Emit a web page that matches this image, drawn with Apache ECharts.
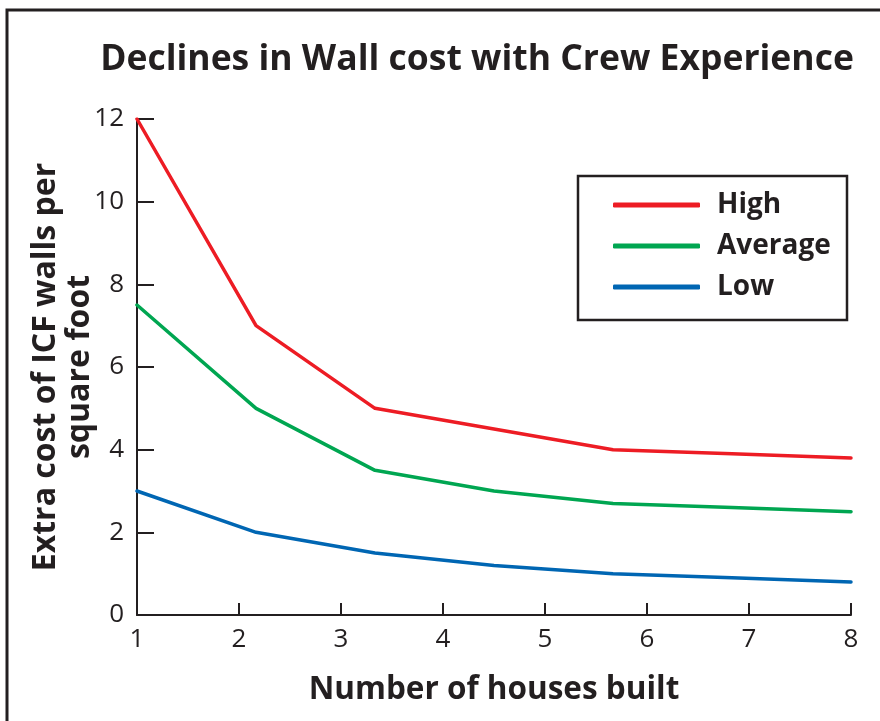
<!DOCTYPE html>
<html><head><meta charset="utf-8">
<script src="https://cdn.jsdelivr.net/npm/echarts@6/dist/echarts.min.js"></script>
<style>html,body{margin:0;padding:0;background:#fff}#c{width:880px;height:721px}</style>
</head><body><div id="c"></div>
<script>
const xValues = [1, 2.167, 3.333, 4.5, 5.667, 6.833, 8];
const seriesNames = ['High', 'Average', 'Low'];
const highValues = [12, 7, 5, 4.5, 4.0, 3.9, 3.8];
const averageValues = [7.5, 5, 3.5, 3.0, 2.7, 2.6, 2.5];
const lowValues = [3.0, 2.0, 1.5, 1.2, 1.0, 0.9, 0.8];
const xTicks = [1, 2, 3, 4, 5, 6, 7, 8];
const yTicks = [0, 2, 4, 6, 8, 10, 12];
const colors = ['#ED1C24', '#00A651', '#0066B3'];
const ink = '#231F20';
const fontB = '"Open Sans", sans-serif';

const chart = echarts.init(document.getElementById('c'));
const pairs = v => xValues.map((x, i) => [x, v[i]]);
chart.setOption({
  animation: false,
  title: {
    text: 'Declines in Wall cost with Crew Experience',
    left: 472, textAlign: 'center', top: 37,
    textStyle: { fontFamily: fontB, fontWeight: 'bold', fontSize: 35.5, color: ink }
  },
  grid: { left: 137, top: 119, width: 714, height: 496, containLabel: false },
  legend: {
    orient: 'vertical', left: 608, top: 185,
    itemWidth: 87, itemHeight: 5, itemGap: 11, icon: 'roundRect',
    data: seriesNames,
    textStyle: { fontFamily: fontB, fontWeight: 'bold', fontSize: 28, color: ink, lineHeight: 30, padding: [0, 0, 0, 12] }
  },
  graphic: [
    { type: 'rect', shape: { x: 7, y: 10, width: 1000, height: 1000 }, style: { fill: 'none', stroke: ink, lineWidth: 3 }, silent: true, z: 0 },
    { type: 'rect', shape: { x: 578, y: 176, width: 269, height: 144 }, style: { fill: 'none', stroke: ink, lineWidth: 2.5 }, silent: true, z: 10 }
  ],
  xAxis: {
    type: 'value', min: 1, max: 8, interval: 1,
    name: 'Number of houses built', nameLocation: 'middle', nameGap: 59, nameMoveOverlap: false,
    nameTextStyle: { fontFamily: fontB, fontWeight: 'bold', fontSize: 31.5, color: ink },
    axisLine: { lineStyle: { color: ink, width: 2 } },
    axisTick: { inside: true, length: 12, lineStyle: { color: ink, width: 2 } },
    axisLabel: { fontFamily: fontB, fontSize: 26, color: ink, margin: 12,
      formatter: v => xTicks.includes(v) ? String(v) : '' },
    splitLine: { show: false }
  },
  yAxis: {
    type: 'value', min: 0, max: 12, interval: 2,
    name: 'Extra cost of ICF walls per\nsquare foot', nameLocation: 'middle', nameGap: 40, nameRotate: 90, nameMoveOverlap: false,
    nameTextStyle: { fontFamily: fontB, fontWeight: 'bold', fontSize: 32, color: ink, lineHeight: 34 },
    axisLine: { show: true, lineStyle: { color: ink, width: 2 } },
    axisTick: { show: true, inside: true, length: 17, lineStyle: { color: ink, width: 2 } },
    axisLabel: { fontFamily: fontB, fontSize: 26, color: ink, margin: 13,
      formatter: v => yTicks.includes(v) ? String(v) : '' },
    splitLine: { show: false }
  },
  series: [highValues, averageValues, lowValues].map((v, i) => ({
    name: seriesNames[i], type: 'line', data: pairs(v),
    symbol: 'none', color: colors[i],
    lineStyle: { width: 3.5, color: colors[i], cap: 'round', join: 'round' }
  }))
});
</script></body></html>
